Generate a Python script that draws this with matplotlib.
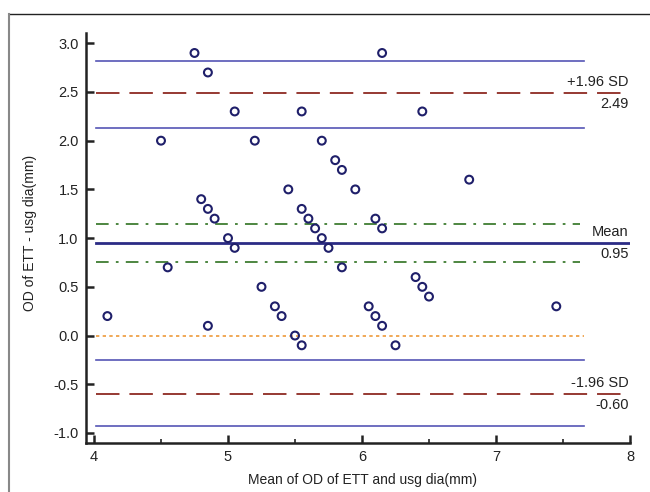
import matplotlib
matplotlib.use('Agg')
import matplotlib.pyplot as plt
from matplotlib.lines import Line2D

plt.rcParams['font.family'] = ['Liberation Sans', 'DejaVu Sans']

# mean of the two measurements / difference
mean_vals = [4.1, 4.5, 4.55, 4.75, 4.8, 4.85, 4.85, 4.85, 4.9, 5.0, 5.05, 5.05,
             5.2, 5.25, 5.35, 5.4, 5.45, 5.5, 5.55, 5.55, 5.55, 5.6, 5.65, 5.7,
             5.7, 5.75, 5.8, 5.85, 5.85, 5.95, 6.05, 6.1, 6.1, 6.15, 6.15, 6.15,
             6.25, 6.4, 6.45, 6.45, 6.5, 6.8, 7.45]
diff_vals = [0.2, 2.0, 0.7, 2.9, 1.4, 1.3, 2.7, 0.1, 1.2, 1.0, 0.9, 2.3,
             2.0, 0.5, 0.3, 0.2, 1.5, 0.0, -0.1, 2.3, 1.3, 1.2, 1.1, 2.0,
             1.0, 0.9, 1.8, 1.7, 0.7, 1.5, 0.3, 0.2, 1.2, 2.9, 1.1, 0.1,
             -0.1, 0.6, 0.5, 2.3, 0.4, 1.6, 0.3]

mean_diff = 0.95
upper_loa = 2.49
lower_loa = -0.60
mean_ci = [0.75, 1.14]
upper_ci = [2.13, 2.82]
lower_ci = [-0.93, -0.25]

fig = plt.figure(figsize=(6.5, 4.92), dpi=100)
ax = fig.add_axes([94 / 650, 1 - 433 / 492, 536 / 650, 399.5 / 492])
ax.set_xlim(4, 8)
ax.set_ylim(-1.0, 3.1)

x0, x1, x2 = 4.015, 7.66, 8.0
navy = '#2b2b85'
blue = '#5555b5'
red = '#8e2a22'
green = '#3f7d32'
orange = '#ee9a3a'

# confidence interval lines
for v in upper_ci + lower_ci:
    ax.plot([x0, x1], [v, v], color=blue, lw=1.2)
for v in mean_ci:
    ax.plot([x0, x1 - 0.03], [v, v], color=green, lw=1.3, dashes=(7, 4, 1.5, 4))
ax.plot([x0, x1], [0, 0], color=orange, lw=1.2, dashes=(2, 2))

ax.plot([x0, x2], [mean_diff, mean_diff], color=navy, lw=2.0)
for v in [upper_loa, lower_loa]:
    ax.plot([x0, x2], [v, v], color=red, lw=1.3, dashes=(13, 5.5))

ax.scatter(mean_vals, diff_vals, s=32, facecolors='none', edgecolors='#1f1f6a',
           linewidths=1.5, zorder=5)

# labels on the right
tx = 7.99
lab = dict(ha='right', fontsize=10.5, color='#222222')
ax.text(tx, upper_loa + 0.04, '+1.96 SD', va='bottom', **lab)
ax.text(tx, upper_loa - 0.04, '%.2f' % upper_loa, va='top', **lab)
ax.text(tx, mean_diff + 0.04, 'Mean', va='bottom', **lab)
ax.text(tx, mean_diff - 0.04, '%.2f' % mean_diff, va='top', **lab)
ax.text(tx, lower_loa + 0.04, '-1.96 SD', va='bottom', **lab)
ax.text(tx, lower_loa - 0.04, '%.2f' % lower_loa, va='top', **lab)

# axes style: detached spines, inward ticks
for s in ['top', 'right']:
    ax.spines[s].set_visible(False)
ax.spines['left'].set_position(('outward', 6))
ax.spines['bottom'].set_position(('outward', 7.5))
ax.spines['left'].set_bounds(-1.0 - 10 / 97.5, 3.1)
ax.spines['bottom'].set_bounds(4 - 8 / 133.7, 8)
for s in ['left', 'bottom']:
    ax.spines[s].set_linewidth(1.8)
    ax.spines[s].set_color('#222222')

ax.set_yticks([-1.0, -0.5, 0.0, 0.5, 1.0, 1.5, 2.0, 2.5, 3.0])
ax.set_yticklabels(['-1.0', '-0.5', '0.0', '0.5', '1.0', '1.5', '2.0', '2.5', '3.0'])
ax.set_xticks([4, 5, 6, 7, 8])
ax.set_xticks([4.5, 5.5, 6.5, 7.5], minor=True)
ax.tick_params(axis='both', which='major', direction='in', length=6, width=1.8,
               labelsize=10.5, colors='#222222', pad=5)
ax.tick_params(axis='x', which='minor', direction='in', length=3, width=1.2, colors='#222222')

ax.set_xlabel('Mean of OD of ETT and usg dia(mm)', fontsize=10, color='#222222', labelpad=6)
ax.set_ylabel('OD of ETT - usg dia(mm)', fontsize=10, color='#222222', labelpad=12)

# outer frame of the panel
fig.add_artist(Line2D([8.5 / 650, 1], [1 - 13.5 / 492, 1 - 13.5 / 492], color='#222222', lw=1.0))
fig.add_artist(Line2D([8.5 / 650, 8.5 / 650], [0, 1 - 13.5 / 492], color='#888888', lw=1.5))

fig.savefig('out.png', dpi=100)
